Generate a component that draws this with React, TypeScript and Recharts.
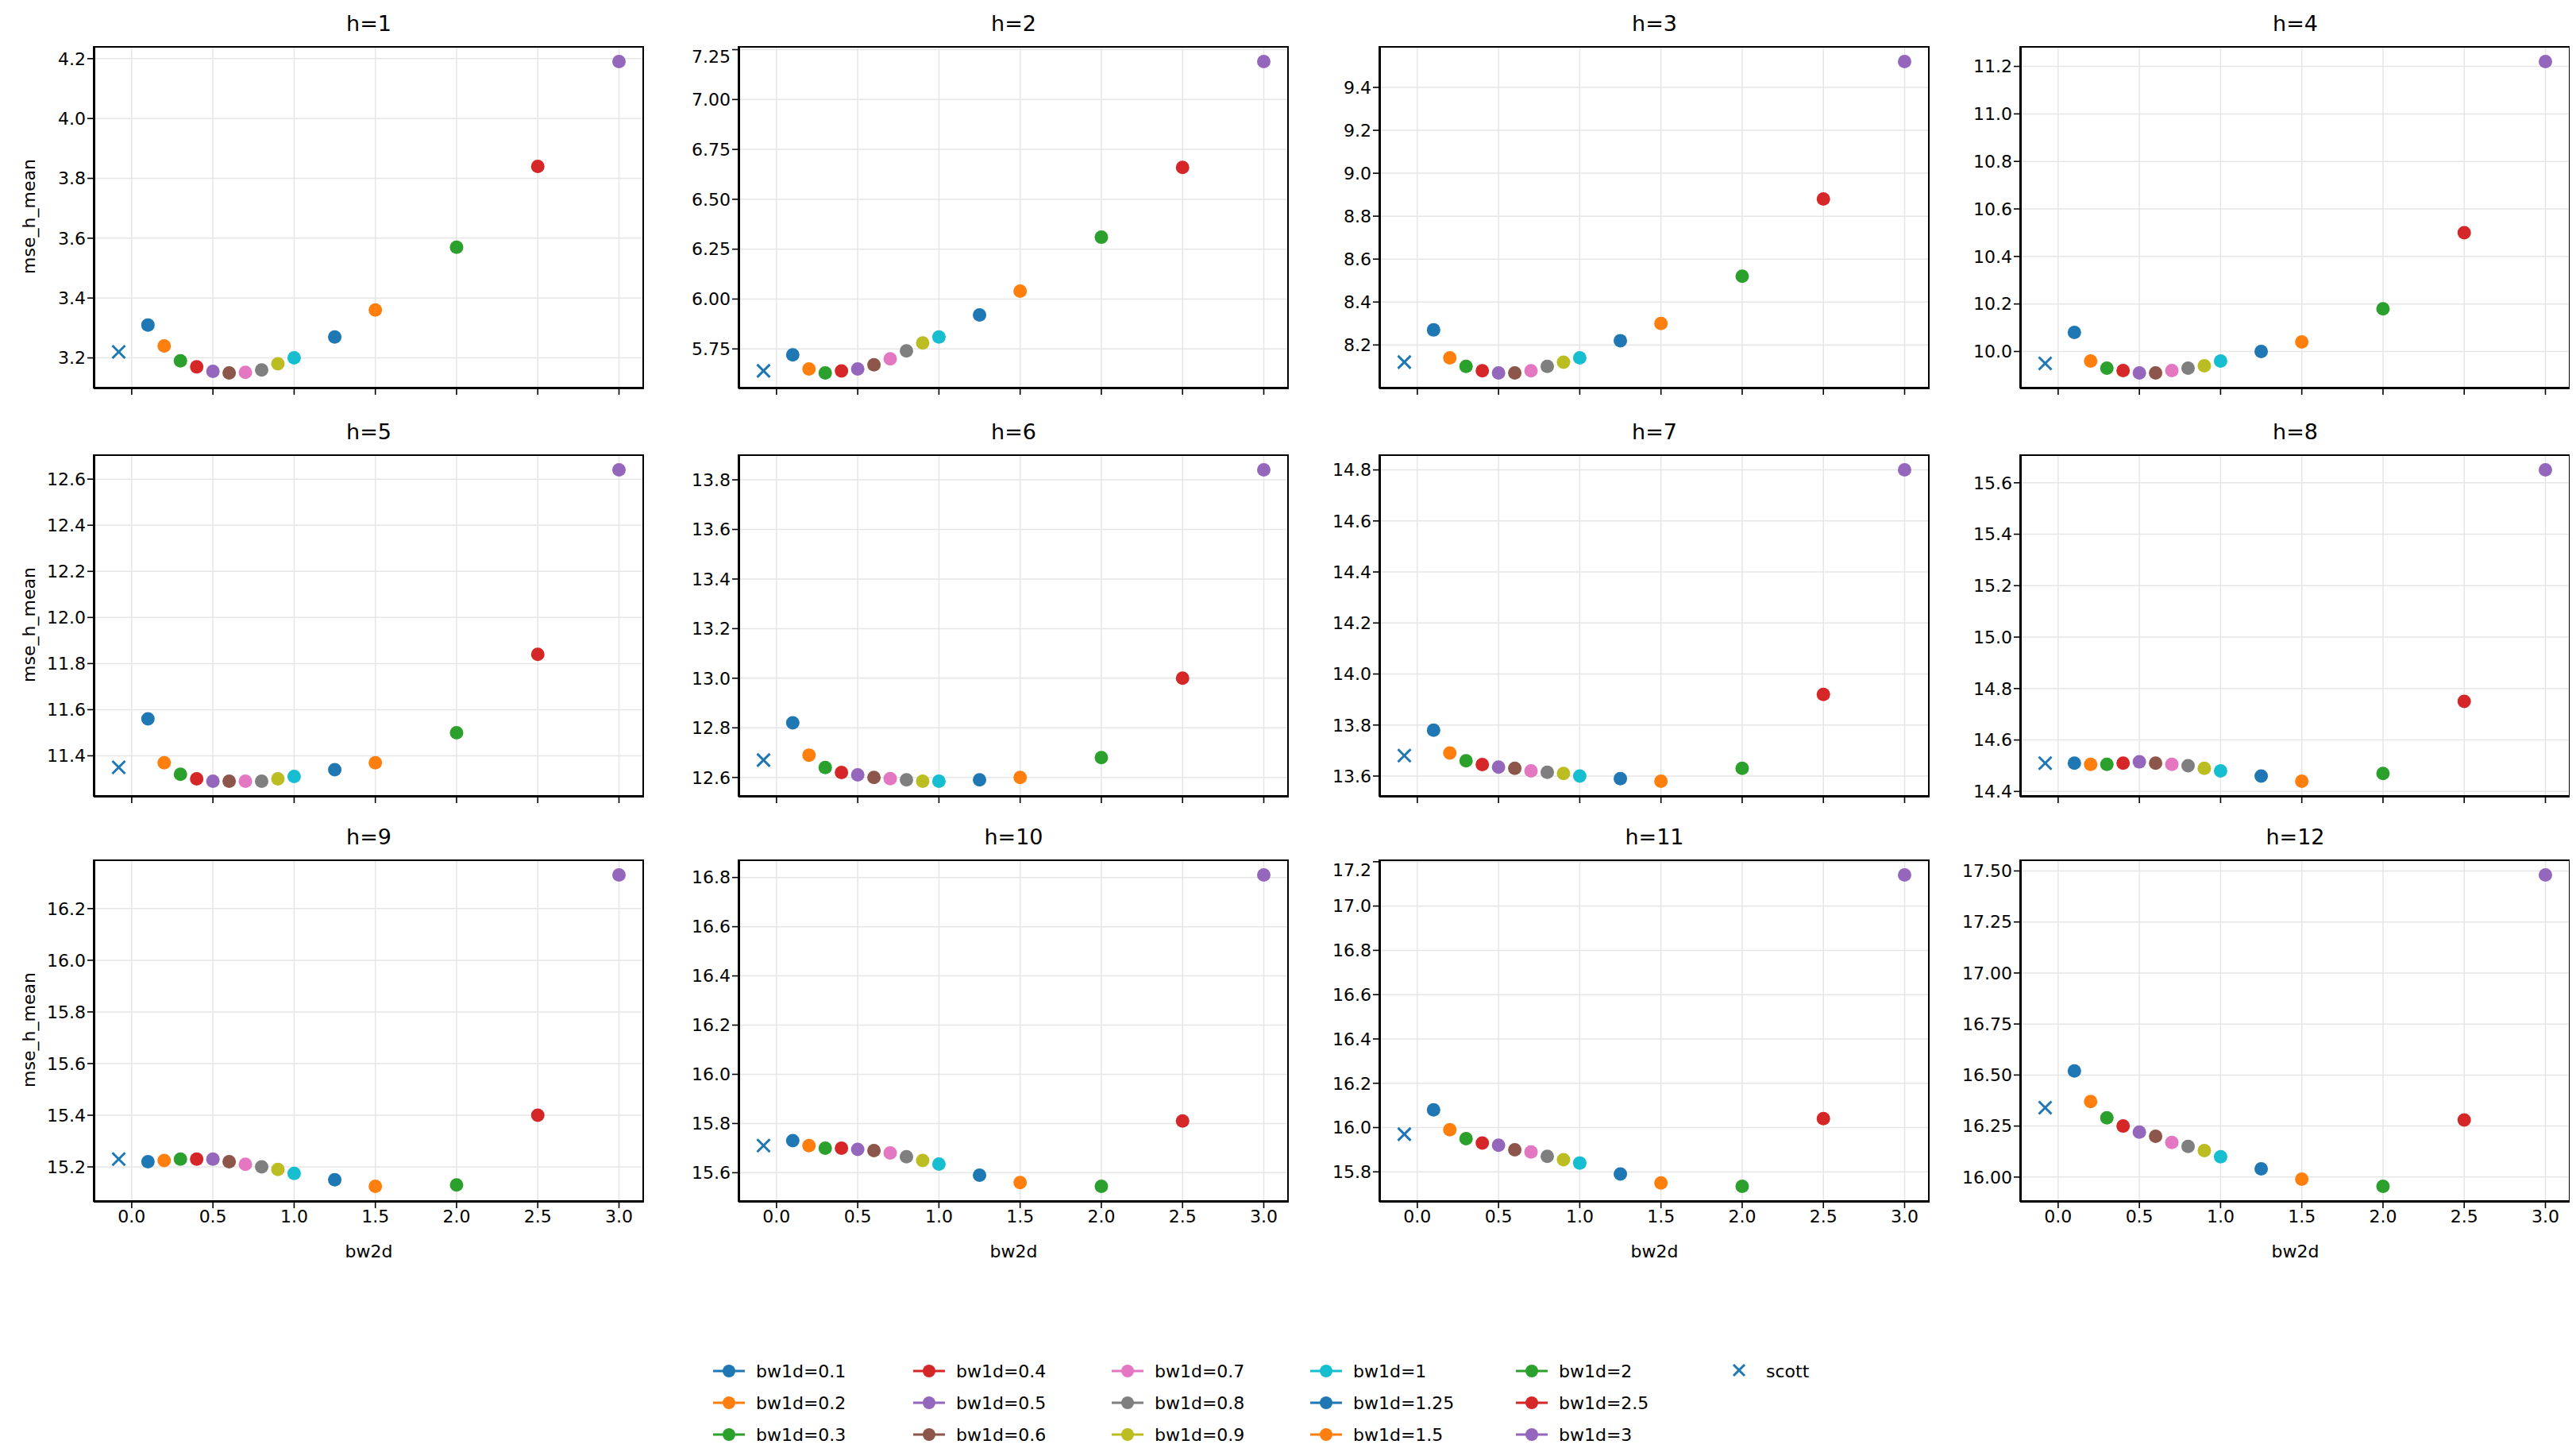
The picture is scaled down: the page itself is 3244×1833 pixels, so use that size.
import React from 'react';
import { ScatterChart, Scatter, XAxis, YAxis, CartesianGrid } from 'recharts';

const bwLabels = ['0.1','0.2','0.3','0.4','0.5','0.6','0.7','0.8','0.9','1','1.25','1.5','2','2.5','3'];
const bwValues = [0.1,0.2,0.3,0.4,0.5,0.6,0.7,0.8,0.9,1,1.25,1.5,2,2.5,3];
const colors = ['#1f77b4','#ff7f0e','#2ca02c','#d62728','#9467bd','#8c564b','#e377c2','#7f7f7f','#bcbd22','#17becf','#1f77b4','#ff7f0e','#2ca02c','#d62728','#9467bd'];
const scottX = -0.08;

const horizons = ['h=1','h=2','h=3','h=4','h=5','h=6','h=7','h=8','h=9','h=10','h=11','h=12'];
const scottVals = [3.22,5.64,8.12,9.95,11.35,12.67,13.68,14.51,15.23,15.71,15.97,16.34];
const mse = [
  [3.31,3.24,3.19,3.17,3.155,3.15,3.152,3.16,3.18,3.2,3.27,3.36,3.57,3.84,4.19],
  [5.72,5.65,5.63,5.64,5.65,5.67,5.7,5.74,5.78,5.81,5.92,6.04,6.31,6.66,7.19],
  [8.27,8.14,8.1,8.08,8.07,8.07,8.08,8.1,8.12,8.14,8.22,8.3,8.52,8.88,9.52],
  [10.08,9.96,9.93,9.92,9.91,9.91,9.92,9.93,9.94,9.96,10.0,10.04,10.18,10.5,11.22],
  [11.56,11.37,11.32,11.3,11.29,11.29,11.29,11.29,11.3,11.31,11.34,11.37,11.5,11.84,12.64],
  [12.82,12.69,12.64,12.62,12.61,12.6,12.595,12.59,12.585,12.585,12.59,12.6,12.68,13.0,13.84],
  [13.78,13.69,13.66,13.645,13.635,13.63,13.62,13.615,13.61,13.6,13.59,13.58,13.63,13.92,14.8],
  [14.51,14.505,14.505,14.51,14.515,14.51,14.505,14.5,14.49,14.48,14.46,14.44,14.47,14.75,15.65],
  [15.22,15.225,15.23,15.23,15.23,15.22,15.21,15.2,15.19,15.175,15.15,15.125,15.13,15.4,16.33],
  [15.73,15.71,15.7,15.7,15.695,15.69,15.68,15.665,15.65,15.635,15.59,15.56,15.545,15.81,16.81],
  [16.08,15.99,15.95,15.93,15.92,15.9,15.89,15.87,15.855,15.84,15.79,15.75,15.735,16.04,17.14],
  [16.52,16.37,16.29,16.25,16.22,16.2,16.17,16.15,16.13,16.1,16.04,15.99,15.955,16.28,17.48],
];
const yTicks = [
  [3.2,3.4,3.6,3.8,4.0,4.2],
  [5.75,6.0,6.25,6.5,6.75,7.0,7.25],
  [8.2,8.4,8.6,8.8,9.0,9.2,9.4],
  [10.0,10.2,10.4,10.6,10.8,11.0,11.2],
  [11.4,11.6,11.8,12.0,12.2,12.4,12.6],
  [12.6,12.8,13.0,13.2,13.4,13.6,13.8],
  [13.6,13.8,14.0,14.2,14.4,14.6,14.8],
  [14.4,14.6,14.8,15.0,15.2,15.4,15.6],
  [15.2,15.4,15.6,15.8,16.0,16.2],
  [15.6,15.8,16.0,16.2,16.4,16.6,16.8],
  [15.8,16.0,16.2,16.4,16.6,16.8,17.0,17.2],
  [16.0,16.25,16.5,16.75,17.0,17.25,17.5],
];
const yDecimals = [1,2,1,1,1,1,1,1,1,1,1,2];
const xTicks = [0,0.5,1,1.5,2,2.5,3];

const colLefts = [118, 930, 1737, 2544];
const rowTops = [58, 572, 1082];
const PW = 693;
const PH = 431;
const YW = 80;
const XH = 44;
const FONT = 'DejaVu Sans, sans-serif';

const Dot = (color: string) => (p: any) => <circle cx={p.cx} cy={p.cy} r={8.5} fill={color} />;
const Cross = (p: any) => (
  <g stroke="#1f77b4" strokeWidth={3}>
    <line x1={p.cx - 8} y1={p.cy - 8} x2={p.cx + 8} y2={p.cy + 8} />
    <line x1={p.cx - 8} y1={p.cy + 8} x2={p.cx + 8} y2={p.cy - 8} />
  </g>
);

function Panel({ i }: { i: number }) {
  const col = i % 4, row = Math.floor(i / 4);
  const vals = [...mse[i], scottVals[i]];
  const mn = Math.min(...vals), mx = Math.max(...vals);
  const pad = (mx - mn) * 0.05;
  const left = colLefts[col] - 8, top = rowTops[row] - 8;
  const bottom = row === 2;
  return (
    <>
      <div style={{ position: 'absolute', left, top: top - 44, width: PW, textAlign: 'center', fontSize: 27, fontFamily: FONT }}>{horizons[i]}</div>
      <div style={{ position: 'absolute', left: left - YW, top }}>
        <ScatterChart width={YW + PW} height={PH + XH} margin={{ top: 0, right: 0, bottom: 0, left: 0 }}>
          <CartesianGrid stroke="#e6e6e6" strokeWidth={1.5} horizontal vertical />
          <XAxis type="number" dataKey="x" domain={[-0.234, 3.154]} ticks={xTicks} allowDataOverflow height={XH}
            tickFormatter={(v: number) => v.toFixed(1)} tickSize={8} tickLine={{ stroke: '#000', strokeWidth: 1.6 }}
            axisLine={{ stroke: '#000', strokeWidth: 2 }}
            tick={{ fill: bottom ? '#000' : 'transparent', fontSize: 22, fontFamily: FONT }} />
          <YAxis type="number" dataKey="y" domain={[mn - pad, mx + pad]} ticks={yTicks[i]} allowDataOverflow width={YW}
            tickFormatter={(v: number) => v.toFixed(yDecimals[i])} tickSize={8} tickLine={{ stroke: '#000', strokeWidth: 1.6 }}
            axisLine={{ stroke: '#000', strokeWidth: 2 }}
            tick={{ fill: '#000', fontSize: 22, fontFamily: FONT }} />
          {bwValues.map((b, k) => (
            <Scatter key={k} data={[{ x: b, y: mse[i][k] }]} shape={Dot(colors[k])} isAnimationActive={false} />
          ))}
          <Scatter data={[{ x: scottX, y: scottVals[i] }]} shape={Cross} isAnimationActive={false} />
        </ScatterChart>
      </div>
      <div style={{ position: 'absolute', left, top, width: PW, height: PH, border: '2px solid #000', boxSizing: 'border-box', pointerEvents: 'none' }} />
      {bottom && <div style={{ position: 'absolute', left, top: top + PH + 50, width: PW, textAlign: 'center', fontSize: 22, fontFamily: FONT }}>bw2d</div>}
      {col === 0 && (
        <div style={{ position: 'absolute', left: 36 - 8 - 150, top: top + PH / 2 - 14, width: 300, textAlign: 'center', fontSize: 22, fontFamily: FONT, transform: 'rotate(-90deg)' }}>mse_h_mean</div>
      )}
    </>
  );
}

const legendCols = [898, 1150, 1400, 1650, 1909, 2170];
const legendRows = [1726, 1766, 1806];

function Legend() {
  const items = [...bwLabels.map((l, k) => ({ label: 'bw1d=' + l, color: colors[k], cross: false })), { label: 'scott', color: '#1f77b4', cross: true }];
  return (
    <>
      {items.map((it, k) => {
        const c = Math.floor(k / 3), r = k % 3;
        return (
          <div key={k} style={{ position: 'absolute', left: legendCols[c] - 8, top: legendRows[r] - 8 - 14, height: 28, display: 'flex', alignItems: 'center', fontSize: 22, fontFamily: FONT }}>
            <svg width={40} height={28} style={{ marginRight: 14 }}>
              {it.cross ? (
                <g stroke={it.color} strokeWidth={3}>
                  <line x1={13} y1={6} x2={27} y2={20} /><line x1={13} y1={20} x2={27} y2={6} />
                </g>
              ) : (
                <>
                  <line x1={0} y1={14} x2={40} y2={14} stroke={it.color} strokeWidth={3} />
                  <circle cx={20} cy={14} r={8} fill={it.color} />
                </>
              )}
            </svg>
            <span>{it.label}</span>
          </div>
        );
      })}
    </>
  );
}

export default function App() {
  return (
    <div style={{ position: 'relative', width: 3228, height: 1817, background: '#fff' }}>
      {horizons.map((_, i) => <Panel key={i} i={i} />)}
      <Legend />
    </div>
  );
}
